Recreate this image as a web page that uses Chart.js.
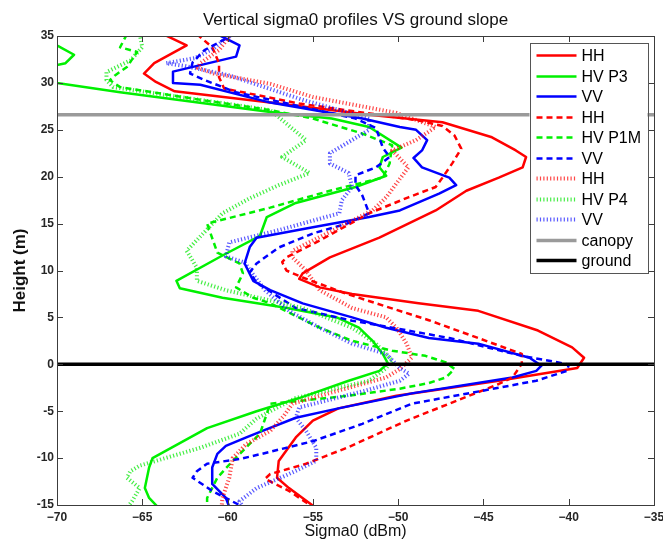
<!DOCTYPE html>
<html><head><meta charset="utf-8">
<script src="https://cdn.jsdelivr.net/npm/chart.js@4.4.0/dist/chart.umd.min.js"></script>
<style>html,body{margin:0;padding:0;background:#fff;} #wrap{width:663px;height:541px;}</style>
</head><body><div id="wrap"><canvas id="c" width="663" height="541"></canvas></div>
<script>
// ---------- data (sigma0 in dBm, height in m) ----------
const hhP3Sigma = [-63.9,-62.4,-64.3,-64.9,-64.2,-63.1,-57.5,-51.7,-47.4,-44.5,-43.1,-42.5,-42.7,-44.1,-46.0,-47.8,-51.1,-54.0,-55.6,-55.8,-54.6,-52.7,-48.8,-45.3,-41.8,-39.8,-39.1,-39.5,-44.1,-50.1,-53.5,-55.0,-56.0,-57.0,-57.1,-56.4,-54.9];
const hhP3Height = [35.3,34.0,32.1,31.0,30.1,29.1,27.9,26.6,25.8,24.2,22.8,22.1,21.0,19.9,18.5,16.4,13.5,11.4,9.7,9.1,8.2,7.5,6.5,5.7,3.6,1.8,0.7,-0.4,-1.75,-3.35,-4.7,-6.0,-7.8,-10.3,-12.1,-13.2,-15.2];

const hvP3Sigma = [-71.2,-69.9,-69.0,-69.5,-70.0,-71.5,-70.0,-66.3,-57.5,-53.9,-51.7,-49.8,-50.9,-51.1,-50.7,-52.5,-56.0,-57.7,-58.1,-60.3,-63.0,-62.8,-60.3,-56.5,-53.6,-52.3,-51.5,-50.9,-50.6,-51.1,-52.9,-55.8,-58.3,-61.2,-64.4,-64.6,-64.85,-64.6,-64.1];
const hvP3Height = [34.6,33.9,33.0,32.1,31.9,31.0,30.0,29.0,26.9,26.2,25.3,23.1,22.1,21.0,20.1,18.9,17.2,15.7,13.7,11.6,8.9,8.1,7.1,6.0,5.0,3.9,2.5,1.1,0.1,-0.7,-1.75,-3.6,-5.0,-6.8,-10.0,-11.0,-13.2,-14.25,-15.2];

const vvP3Sigma = [-60.5,-59.3,-59.5,-63.2,-63.2,-61.6,-57.5,-52.1,-49.9,-48.95,-48.3,-48.6,-49.1,-48.6,-47.0,-46.6,-47.6,-49.9,-51.7,-55.0,-58.3,-58.7,-59.0,-58.5,-57.5,-55.6,-52.7,-50.7,-48.2,-45.3,-42.3,-41.6,-41.9,-43.3,-49.2,-53.5,-56.0,-57.95,-58.9,-60.1,-60.6,-60.9,-60.9,-60.1,-59.9];
const vvP3Height = [35.1,34.0,32.8,31.2,30.0,29.8,27.9,26.2,25.3,25.0,23.9,22.8,22.0,21.0,19.9,19.1,18.2,16.4,15.7,14.6,13.5,12.5,10.75,8.9,7.9,6.5,5.0,3.9,2.8,2.2,0.7,-0.15,-0.7,-1.4,-3.1,-4.7,-5.7,-7.1,-7.8,-8.7,-9.55,-11.0,-12.75,-14.25,-15.2];

const hhP1MSigma = [-61.8,-60.9,-60.5,-60.5,-60.2,-55.8,-48.8,-47.4,-46.7,-46.3,-46.8,-47.4,-47.8,-49.4,-51.7,-54.6,-56.55,-56.8,-56.55,-55.6,-53.0,-48.2,-45.3,-42.75,-42.75,-43.3,-44.1,-49.5,-53.0,-55.4,-57.5,-57.8,-56.4,-55.0];
const hhP1MHeight = [35.2,33.8,32.1,30.6,29.4,27.8,26.0,25.4,24.4,23.0,21.5,19.9,18.9,17.8,16.1,13.2,11.4,10.9,10.0,9.25,7.5,4.7,2.8,1.1,0.05,-1.4,-2.1,-6.0,-8.9,-10.6,-11.7,-12.2,-13.5,-15.2];

const hvP1MSigma = [-65.9,-66.3,-65.3,-65.9,-66.6,-66.9,-66.3,-61.6,-57.5,-55.0,-52.1,-50.35,-50.5,-50.9,-54.0,-57.5,-61.2,-60.6,-59.3,-59.1,-59.5,-58.5,-57.5,-54.6,-52.7,-50.35,-48.4,-47.2,-46.7,-47.2,-48.2,-49.9,-52.9,-55.8,-57.5,-58.1,-59.7,-60.6,-61.2,-61.2];
const hvP1MHeight = [35.2,33.8,33.3,31.7,30.8,30.3,29.55,28.2,27.1,26.2,24.6,23.35,21.4,19.9,18.5,16.7,15.0,11.9,10.75,9.7,8.2,7.1,6.5,3.9,2.5,1.45,0.9,0.2,-0.5,-1.4,-2.0,-2.6,-3.35,-3.9,-4.2,-7.4,-10.3,-12.1,-14.25,-15.2];

const vvP1MSigma = [-59.6,-61.35,-62.05,-62.2,-61.35,-59.5,-56.0,-52.5,-51.3,-50.9,-50.5,-51.3,-52.5,-52.5,-52.1,-51.7,-53.0,-55.0,-57.0,-58.3,-58.7,-58.3,-57.4,-56.0,-52.7,-50.35,-47.0,-42.75,-40.6,-40.0,-40.1,-41.9,-44.1,-49.2,-52.1,-55.0,-58.0,-59.3,-61.2,-61.8,-62.05,-60.9,-59.1];
const vvP1MHeight = [35.2,33.5,32.2,31.0,30.3,29.0,27.6,26.2,25.2,23.1,22.1,21.0,20.15,19.1,18.0,16.1,15.0,13.95,12.45,10.75,9.8,8.7,7.65,6.0,4.65,3.9,2.8,0.9,0.2,-0.05,-0.7,-1.75,-2.5,-4.2,-6.35,-8.2,-9.55,-10.1,-10.6,-11.4,-12.1,-13.5,-15.2];

const hhP4Sigma = [-59.8,-60.5,-61.6,-61.75,-60.8,-57.5,-55.0,-50.1,-47.8,-48.95,-50.35,-49.4,-50.7,-51.5,-55.0,-56.2,-56.2,-55.4,-54.6,-52.7,-50.7,-50.1,-49.5,-49.2,-49.9,-50.7,-53.5,-56.2,-56.7,-57.5,-58.9,-59.7,-59.9,-60.3,-60.35];
const hhP4Height = [35.2,33.5,32.1,31.6,31.0,29.9,28.5,26.8,25.3,23.9,22.8,21.0,17.8,16.4,13.2,12.1,11.4,10.0,7.9,6.0,5.0,3.9,2.2,0.7,-0.5,-1.4,-2.8,-4.2,-5.5,-7.1,-8.5,-10.0,-12.1,-14.25,-15.2];

const hvP4Sigma = [-65.15,-65.0,-65.7,-67.1,-67.1,-66.7,-62.8,-57.5,-57.0,-55.4,-56.8,-55.2,-57.0,-58.7,-60.3,-62.4,-61.8,-61.8,-60.1,-57.5,-55.6,-52.7,-51.3,-50.35,-50.7,-51.7,-53.5,-56.0,-57.5,-58.3,-59.3,-61.6,-65.15,-65.7,-65.9,-65.15,-65.6,-65.85];
const hvP4Height = [35.2,33.8,32.4,31.15,30.3,29.55,28.5,27.1,26.35,23.9,22.1,20.4,19.1,17.7,16.1,12.1,10.3,8.9,7.9,6.8,6.0,3.9,2.2,0.4,-0.4,-1.75,-2.5,-3.6,-5.0,-5.8,-7.4,-8.9,-10.8,-11.4,-12.1,-13.2,-14.6,-15.2];

const vvP4Sigma = [-59.8,-60.8,-61.9,-63.6,-62.5,-59.9,-55.6,-51.7,-51.7,-54.0,-54.0,-52.9,-52.7,-53.3,-53.45,-57.0,-59.9,-60.1,-59.0,-58.6,-57.8,-56.4,-54.6,-52.7,-50.7,-49.9,-49.35,-49.9,-51.9,-55.8,-56.0,-55.4,-54.8,-54.8,-56.4,-58.3,-59.3,-59.1];
const vvP4Height = [35.2,33.7,32.65,32.1,31.8,30.8,28.2,26.2,25.0,22.5,21.4,20.4,18.9,17.5,16.1,14.3,13.0,11.5,10.85,9.8,7.9,5.7,3.9,2.2,1.1,-0.4,-1.0,-1.75,-2.8,-4.6,-5.7,-7.1,-8.9,-10.3,-11.7,-13.2,-14.6,-15.2];

const canopyHeight = 26.6;
const groundHeight = 0;
const sigmaRange = [-70, -35];
const heightRange = [-15, 35];
const seriesLabels = ['HH','HV P3','VV','HH','HV P1M','VV','HH','HV P4','VV','canopy','ground'];

// ---------- build ----------
const zip = (xs, ys) => xs.map((x, i) => ({x, y: ys[i]}));
const RED='#ff0000', GREEN='#00f000', BLUE='#0000ff';
const DRED='rgba(255,0,0,0.72)', DGREEN='rgba(0,230,0,0.72)', DBLUE='rgba(0,0,255,0.65)';
const solid = [], dashed = [6,4], dotted = [1.2,2.2];
const styles = [
  [RED,2.5,solid],[GREEN,2.5,solid],[BLUE,2.5,solid],
  [RED,2.5,dashed],[GREEN,2.5,dashed],[BLUE,2.5,dashed],
  [DRED,4,dotted],[DGREEN,4,dotted],[DBLUE,4,dotted],
  ['#9a9a9a',3.5,solid],['#000000',3.5,solid]
];
const seriesData = [
  zip(hhP3Sigma, hhP3Height), zip(hvP3Sigma, hvP3Height), zip(vvP3Sigma, vvP3Height),
  zip(hhP1MSigma, hhP1MHeight), zip(hvP1MSigma, hvP1MHeight), zip(vvP1MSigma, vvP1MHeight),
  zip(hhP4Sigma, hhP4Height), zip(hvP4Sigma, hvP4Height), zip(vvP4Sigma, vvP4Height),
  sigmaRange.map(x => ({x, y: canopyHeight})),
  sigmaRange.map(x => ({x, y: groundHeight}))
];
const N = seriesLabels.length;
const datasets = seriesLabels.map((label, i) => ({
  label, data: seriesData[i], showLine: true, pointRadius: 0, pointHoverRadius: 0,
  borderColor: styles[i][0], backgroundColor: styles[i][0], borderWidth: styles[i][1],
  borderDash: styles[i][2], borderJoinStyle: 'round', tension: 0, fill: false,
  order: N - i
}));

const FONT = "'Liberation Sans', Arial, Helvetica, sans-serif";

const frame = {
  id: 'frame',
  afterDatasetsDraw(chart) {
    const {ctx, chartArea: a, scales: {x, y}} = chart;
    ctx.save();
    ctx.strokeStyle = '#3c3c3c'; ctx.lineWidth = 1; ctx.setLineDash([]);
    ctx.beginPath();
    x.ticks.forEach(t => { const p = Math.round(x.getPixelForValue(t.value)) + 0.5;
      ctx.moveTo(p, a.bottom); ctx.lineTo(p, a.bottom - 6);
      ctx.moveTo(p, a.top); ctx.lineTo(p, a.top + 6); });
    y.ticks.forEach(t => { const p = Math.round(y.getPixelForValue(t.value)) + 0.5;
      ctx.moveTo(a.left, p); ctx.lineTo(a.left + 6, p);
      ctx.moveTo(a.right, p); ctx.lineTo(a.right - 6, p); });
    ctx.stroke();
    ctx.strokeRect(Math.round(a.left)+0.5, Math.round(a.top)+0.5, Math.round(a.width), Math.round(a.height));
    ctx.restore();
  }
};

const boxLegend = {
  id: 'boxLegend',
  afterDraw(chart) {
    const {ctx, chartArea: a} = chart;
    const ds = chart.data.datasets;
    const w = 118, rowH = 20.5;
    const x0 = a.right - w - 6.5, y0 = a.top + 7;
    const h = ds.length * rowH + 4;
    ctx.save();
    ctx.fillStyle = '#fff'; ctx.fillRect(x0, y0, w, h);
    ctx.strokeStyle = '#555'; ctx.lineWidth = 1; ctx.setLineDash([]);
    ctx.strokeRect(Math.round(x0)+0.5, Math.round(y0)+0.5, w, Math.round(h));
    ctx.font = '16px ' + FONT; ctx.fillStyle = '#000'; ctx.textBaseline = 'middle'; ctx.textAlign = 'left';
    ds.forEach((d, i) => {
      const cy = Math.round(y0 + 12 + i * rowH) + 0.5;
      ctx.beginPath(); ctx.setLineDash(d.borderDash || []);
      ctx.strokeStyle = d.borderColor; ctx.lineWidth = d.borderWidth;
      ctx.moveTo(x0 + 7, cy); ctx.lineTo(x0 + 47, cy); ctx.stroke();
      ctx.setLineDash([]);
      ctx.fillText(d.label, x0 + 52, cy + 1);
    });
    ctx.restore();
  }
};

new Chart(document.getElementById('c'), {
  type: 'scatter',
  data: { datasets },
  options: {
    responsive: false, animation: false, devicePixelRatio: 1, events: [],
    layout: { padding: { left: 0, right: 9, top: 0, bottom: 0 } },
    plugins: {
      legend: { display: false }, tooltip: { enabled: false },
      title: { display: true, text: 'Vertical sigma0 profiles VS ground slope', fullSize: false,
        color: '#111', font: { family: FONT, size: 17, weight: 'normal' }, padding: { top: 10, bottom: 5.6 } }
    },
    scales: {
      x: { type: 'linear', min: sigmaRange[0], max: sigmaRange[1],
        grid: { display: false, drawTicks: false }, border: { display: false },
        ticks: { stepSize: 5, padding: 5, color: '#262626', maxRotation: 0, autoSkip: false,
          font: { family: FONT, size: 12, weight: 'bold' },
          callback: v => (v < 0 ? '\u2212' : '') + Math.abs(v) },
        title: { display: true, text: 'Sigma0 (dBm)', color: '#111', font: { family: FONT, size: 16 }, padding: { top: 0, bottom: 0 } },
        afterFit: s => { s.height = 36; s.paddingLeft = 0; s.paddingRight = 0; } },
      y: { type: 'linear', min: heightRange[0], max: heightRange[1],
        grid: { display: false, drawTicks: false }, border: { display: false },
        ticks: { stepSize: 5, padding: 3, color: '#262626', autoSkip: false,
          font: { family: FONT, size: 12, weight: 'bold' }, callback: v => String(v) },
        title: { display: true, text: 'Height (m)', color: '#111', font: { family: FONT, size: 17, weight: 'bold' }, padding: { top: 10, bottom: 0 } },
        afterFit: s => { s.width = 57; s.paddingTop = 0; s.paddingBottom = 0; } }
    }
  },
  plugins: [frame, boxLegend]
});
</script></body></html>
